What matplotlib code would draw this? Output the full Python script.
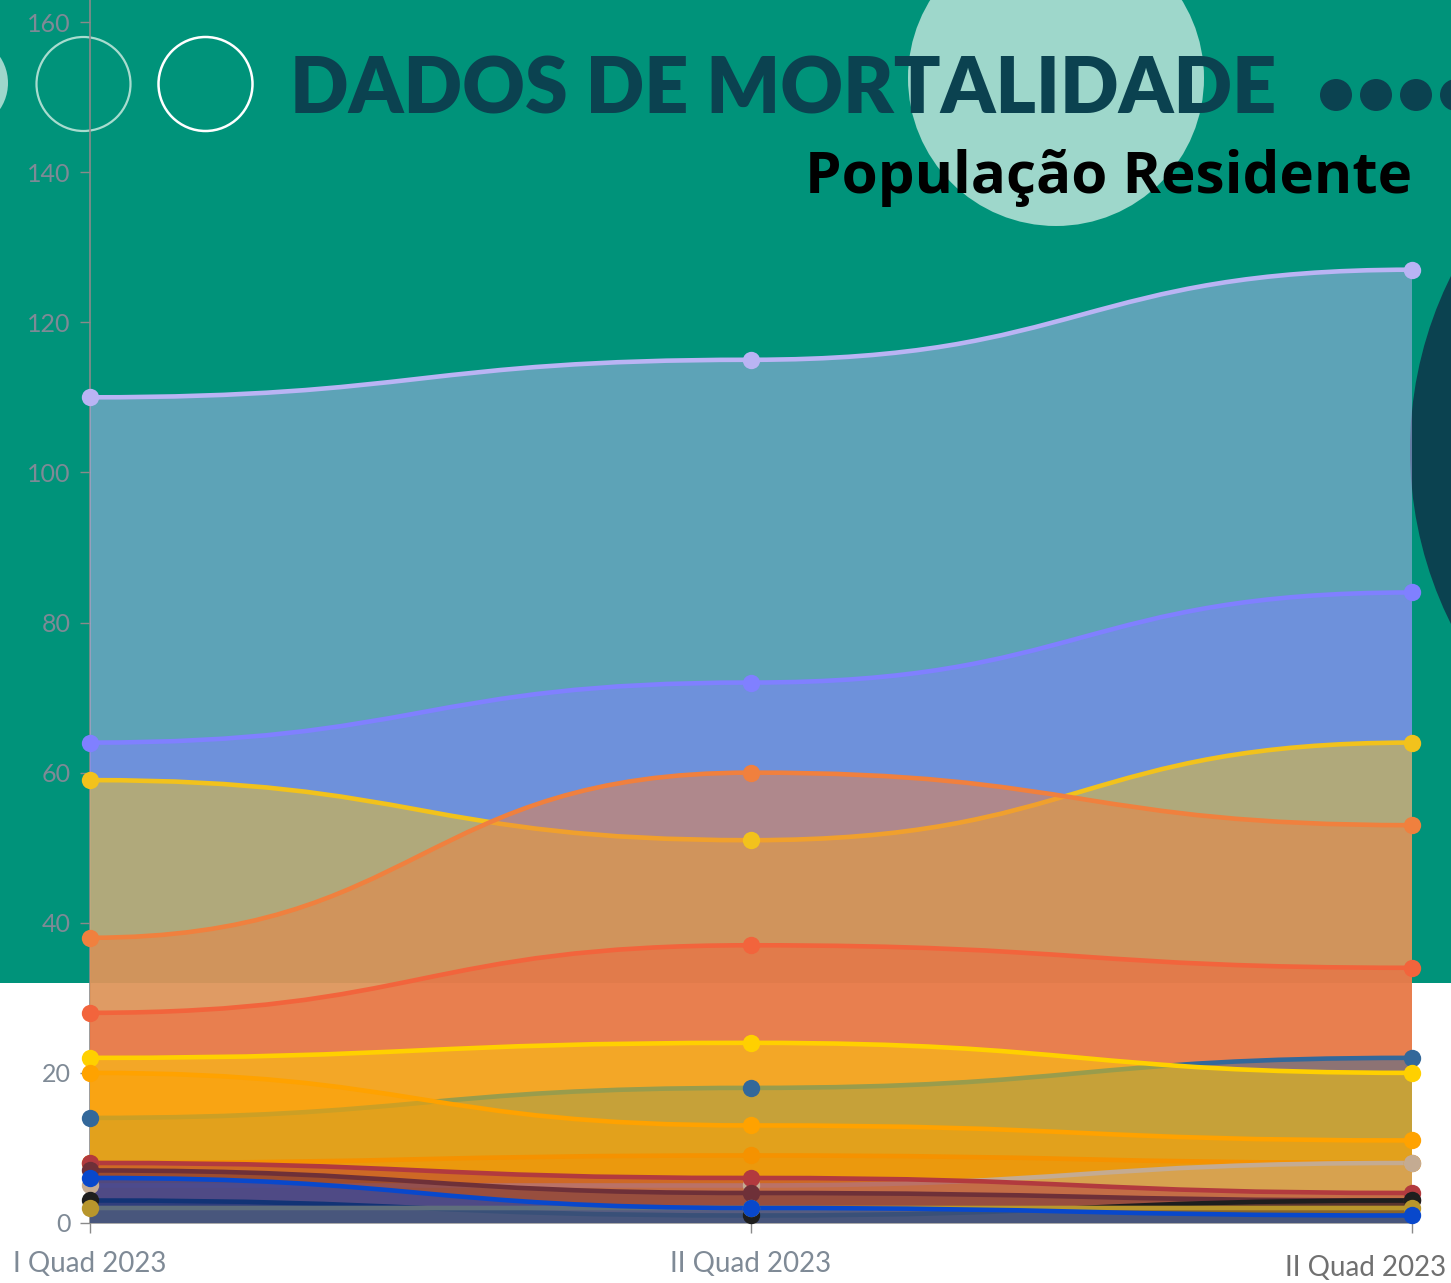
import matplotlib
matplotlib.use("Agg")
import matplotlib.pyplot as plt
from matplotlib.path import Path
from matplotlib.patches import PathPatch, Circle, Rectangle
from matplotlib.lines import Line2D

# ---------------- data ----------------
categories = ["I Quad 2023", "II Quad 2023", "II Quad 2023"]
y_ticks = [0, 20, 40, 60, 80, 100, 120, 140, 160]

s_lavender = [110, 115, 127]
s_purple = [64, 72, 84]
s_gold = [59, 51, 64]
s_orange = [38, 60, 53]
s_redorange = [28, 37, 34]
s_steel = [14, 18, 22]
s_yellow = [22, 24, 20]
s_amber = [20, 13, 11]
s_orange2 = [8, 9, 8]
s_tan = [5, 5, 8]
s_red = [8, 6, 4]
s_brown = [7, 4, 3]
s_black = [3, 1, 3]
s_olive = [2, 2, 2]
s_blue = [6, 2, 1]

series = [
    (s_lavender, "#bab4f4"),
    (s_purple, "#8080ff"),
    (s_gold, "#f2c21c"),
    (s_orange, "#f0803e"),
    (s_redorange, "#f2643c"),
    (s_steel, "#33689a"),
    (s_yellow, "#ffd000"),
    (s_amber, "#ffa200"),
    (s_orange2, "#f59200"),
    (s_tan, "#c4ab92"),
    (s_red, "#b23a3e"),
    (s_brown, "#6e3038"),
    (s_black, "#1e1e1e"),
    (s_olive, "#b8962c"),
    (s_blue, "#0848cc"),
]

W, H = 1451, 1283
fig = plt.figure(figsize=(W / 100, H / 100), dpi=100)
fig.patch.set_facecolor("white")

def fx(px):
    return px / W

def fy(py):
    return 1 - py / H

green = "#00937a"
dark = "#0b4250"
mint = "#9ed7cb"

# background decoration in pixel coordinates
bg = fig.add_axes([0, 0, 1, 1], zorder=0)
bg.set_xlim(0, W)
bg.set_ylim(H, 0)
bg.axis("off")
bg.add_patch(Rectangle((0, 0), W, 983, facecolor=green, edgecolor="none", zorder=0))
bg.add_patch(Circle((1056, 78), 148, facecolor=mint, edgecolor="none", zorder=1))
bg.add_patch(Circle((1800, 450), 390, facecolor=dark, edgecolor="none", zorder=1))
bg.add_patch(Circle((-39, 83), 47, facecolor=mint, edgecolor="none", zorder=1))
bg.add_patch(Circle((83.5, 84), 47, facecolor="none", edgecolor="#a8dccf", linewidth=1.6, zorder=1))
bg.add_patch(Circle((205.5, 84), 47, facecolor="none", edgecolor="white", linewidth=1.8, zorder=1))
for cxp in [1336, 1376, 1416, 1456]:
    bg.add_patch(Circle((cxp, 95), 16, facecolor=dark, edgecolor="none", zorder=1))

# ---------------- chart ----------------
ax = fig.add_axes([fx(90), 1 - 1223 / H, fx(1412) - fx(90), (1223 - 22) / H], zorder=2)
ax.patch.set_alpha(0)
ax.set_xlim(0, 2)
ax.set_ylim(0, 160)

xs = [0, 1, 2]

def smooth_path(xv, yv, closed=False):
    # smooth curve with horizontal tangents at each point (cubic Bezier)
    verts = [(xv[0], yv[0])]
    codes = [Path.MOVETO]
    for i in range(len(xv) - 1):
        dx = (xv[i + 1] - xv[i]) * 0.5
        verts += [(xv[i] + dx, yv[i]), (xv[i + 1] - dx, yv[i + 1]), (xv[i + 1], yv[i + 1])]
        codes += [Path.CURVE4] * 3
    if closed:
        verts += [(xv[-1], 0), (xv[0], 0), (xv[0], yv[0])]
        codes += [Path.LINETO, Path.LINETO, Path.CLOSEPOLY]
    return Path(verts, codes)

z = 3
for i, (vals, col) in enumerate(series):
    ax.add_patch(PathPatch(smooth_path(xs, vals, closed=True), facecolor=col, alpha=0.5,
                           edgecolor="none", zorder=z, clip_on=False))
    ax.add_patch(PathPatch(smooth_path(xs, vals), facecolor="none", edgecolor=col,
                           linewidth=3.3, zorder=z + 0.5, clip_on=False, capstyle="round"))
    ax.plot(xs, vals, "o", color=col, markersize=12.5, zorder=100 + i, clip_on=False,
            markeredgewidth=0)
    z += 1

for sp in ["top", "right", "left"]:
    ax.spines[sp].set_visible(False)
ax.spines["bottom"].set_color("#9a9a9a")
ax.spines["bottom"].set_linewidth(1.2)
ax.spines["bottom"].set_zorder(1)

# y-axis line extending to top of figure
fig.add_artist(Line2D([fx(90), fx(90)], [fy(1223), 1.0], color="#8a8a8a", linewidth=1.2,
                      transform=fig.transFigure, zorder=1.5))

tick_color = "#7f8a96"
ax.set_yticks(y_ticks)
ax.set_yticklabels([str(t) for t in y_ticks], fontsize=18, color=tick_color, family="Lato")
ax.tick_params(axis="y", length=7, width=1, color="#8a8a8a", pad=7)
ax.set_xticks(xs)
ax.set_xticklabels([categories[0], categories[1], ""], fontsize=20, color=tick_color,
                   family="Lato")
ax.tick_params(axis="x", length=7, width=1, color="#8a8a8a", pad=13)
fig.text(fx(1446), fy(1281), categories[2], fontsize=20, color="#707070",
         family="Lato", ha="right", va="bottom", zorder=5)

# ---------------- titles ----------------
fig.text(fx(290), fy(113), "DADOS DE MORTALIDADE", fontsize=55.5, fontweight="heavy",
         family="Lato", color=dark, ha="left", va="baseline", zorder=5)
fig.text(fx(1412), fy(193), "População Residente", fontsize=42, fontweight="bold",
         family="Open Sans", color="black", ha="right", va="baseline", zorder=5)

fig.savefig("out.png", dpi=100, facecolor=fig.get_facecolor())
